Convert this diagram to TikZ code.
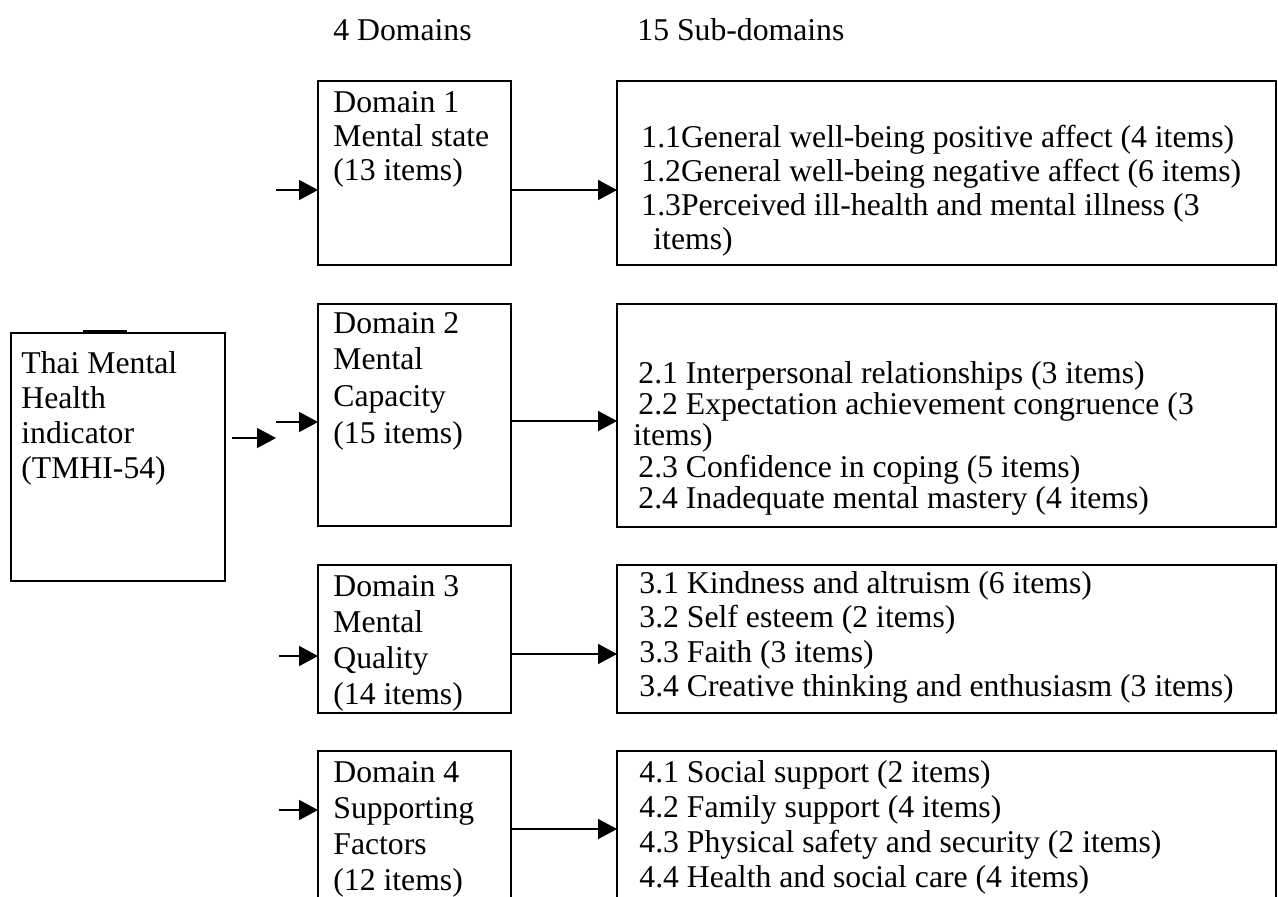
\documentclass[tikz,border=0pt]{standalone}
\usepackage{fontspec}
\setmainfont{Liberation Serif}
\usetikzlibrary{arrows.meta}
\newcommand{\txtblock}[2]{\fontsize{15.85pt}{#1pt}\selectfont\begin{tabular}[t]{@{}l@{}}#2\end{tabular}}
\begin{document}
\begin{tikzpicture}[x=0.5pt,y=-0.5pt,
  boxstyle/.style={draw, line width=1pt, inner sep=0pt, outer sep=0pt, anchor=north west},
  txt/.style={inner sep=0pt, anchor=base west},
  arr/.style={-{Triangle[length=9.5pt,width=10pt]}, line width=0.85pt},
]
\clip (0,0) rectangle (1278,896);
\useasboundingbox (0,0) rectangle (1278,896);

% headers
\node[txt] (h1) at (333,40) {\fontsize{15.85pt}{18pt}\selectfont 4 Domains};
\node[txt] (h2) at (637,40) {\fontsize{15.85pt}{18pt}\selectfont 15 Sub-domains};

% main box
\node[boxstyle, minimum width=107pt, minimum height=124pt] (thai) at (11,333) {};
\draw[line width=1.3pt] (83,331.5) -- (127,331.5);
\node[txt] (thait) at (21,373) {\txtblock{17.5}{Thai Mental\\Health\\indicator\\(TMHI-54)}};

% domain boxes
\node[boxstyle, minimum width=96.5pt, minimum height=92pt] (d1) at (318,81) {};
\node[boxstyle, minimum width=96.5pt, minimum height=111pt] (d2) at (318,304) {};
\node[boxstyle, minimum width=96.5pt, minimum height=74pt] (d3) at (318,565) {};
\node[boxstyle, minimum width=96.5pt, minimum height=87pt] (d4) at (318,751) {};

\node[txt] (d1t) at (333,112) {\txtblock{17}{Domain 1\\Mental state\\(13 items)}};
\node[txt] (d2t) at (333,333) {\txtblock{18.35}{Domain 2\\Mental\\Capacity\\(15 items)}};
\node[txt] (d3t) at (333,596) {\txtblock{18}{Domain 3\\Mental\\Quality\\(14 items)}};
\node[txt] (d4t) at (333,782) {\txtblock{18.15}{Domain 4\\Supporting\\Factors\\(12 items)}};

% sub-domain boxes
\node[boxstyle, minimum width=329.5pt, minimum height=92pt] (s1) at (617,81) {};
\node[boxstyle, minimum width=329.5pt, minimum height=111.5pt] (s2) at (617,304) {};
\node[boxstyle, minimum width=329.5pt, minimum height=74pt] (s3) at (617,565) {};
\node[boxstyle, minimum width=329.5pt, minimum height=87pt] (s4) at (617,751) {};

\node[txt] (s1t) at (641,147) {\txtblock{17}{1.1General well-being positive affect (4 items)\\1.2General well-being negative affect (6 items)\\1.3Perceived ill-health and mental illness (3\\\hspace*{6pt}items)}};
\node[txt] (s2t) at (633,383) {\txtblock{15.5}{\hspace*{2.5pt}2.1 Interpersonal relationships (3 items)\\\hspace*{2.5pt}2.2 Expectation achievement congruence (3\\items)\\\hspace*{2.5pt}2.3 Confidence in coping (5 items)\\\hspace*{2.5pt}2.4 Inadequate mental mastery (4 items)}};
\node[txt] (s3t) at (639,593) {\txtblock{17.25}{3.1 Kindness and altruism (6 items)\\3.2 Self esteem (2 items)\\3.3 Faith (3 items)\\3.4 Creative thinking and enthusiasm (3 items)}};
\node[txt] (s4t) at (639,782) {\txtblock{17.5}{4.1 Social support (2 items)\\4.2 Family support (4 items)\\4.3 Physical safety and security (2 items)\\4.4 Health and social care (4 items)}};

% arrows
\coordinate (a0) at (276,438);
\draw[arr] ([xshift=3.5pt]thai.east |- a0) -- (a0);

\coordinate (i1) at (276,190);
\coordinate (i2) at (276,422);
\coordinate (i3) at (279,656);
\coordinate (i4) at (279,810);
\draw[arr] (i1) -- (i1 -| d1.west);
\draw[arr] (i2) -- (i2 -| d2.west);
\draw[arr] (i3) -- (i3 -| d3.west);
\draw[arr] (i4) -- (i4 -| d4.west);

\coordinate (o1) at (0,190);
\coordinate (o2) at (0,421);
\coordinate (o3) at (0,654);
\coordinate (o4) at (0,829);
\draw[arr] (d1.east |- o1) -- (s1.west |- o1);
\draw[arr] (d2.east |- o2) -- (s2.west |- o2);
\draw[arr] (d3.east |- o3) -- (s3.west |- o3);
\draw[arr] (d4.east |- o4) -- (s4.west |- o4);
\end{tikzpicture}
\end{document}
